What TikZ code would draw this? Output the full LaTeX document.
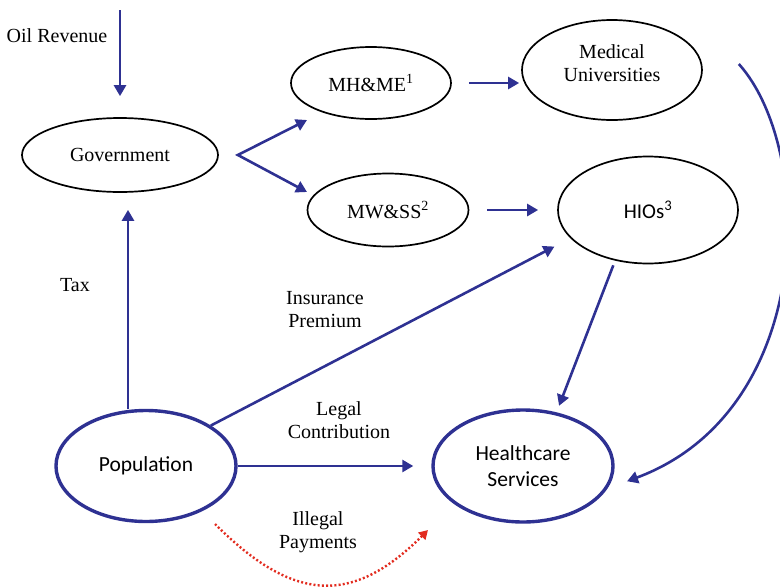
\documentclass[tikz,border=0pt]{standalone}
\usepackage{fontspec}
\setmainfont{Liberation Serif}
\newfontfamily\sansbody{Carlito}
\usepackage{xcolor}
\definecolor{colFlow}{RGB}{46,49,146}
\definecolor{colIllegal}{RGB}{226,44,32}
\usepackage{tikz}
\usetikzlibrary{arrows.meta, positioning, shapes.geometric}

\begin{document}
\begin{tikzpicture}[x=1pt, y=-1pt,
		>={Triangle[length=11pt, width=12pt]},
		org/.style={ellipse, draw, line width=1.7pt, inner sep=0pt, align=center, font=\fontsize{20}{23}\selectfont},
		core/.style={ellipse, draw=colFlow, line width=3.4pt, inner sep=0pt, align=center, font=\sansbody\fontsize{21.5}{26}\selectfont},
		lbl/.style={align=center, font=\fontsize{20}{23}\selectfont},
		flow/.style={draw=colFlow, line width=2.6pt, ->},
		illegal/.style={draw=colIllegal, line width=2.4pt, dash pattern=on 2pt off 2.2pt, -{Triangle[length=9pt, width=10pt]}}]
	\useasboundingbox (0,0) rectangle (780,587);
	\node[org, minimum width=196pt, minimum height=74pt] (gov) at (120,155) {Government};
	\node[org, minimum width=160pt, minimum height=72pt] (mhme) at (371,83) {MH\&ME\textsuperscript{1}};
	\node[org, minimum width=180pt, minimum height=100pt, text depth=14pt] (mu) at (612,70) {Medical\\Universities};
	\node[org, minimum width=161pt, minimum height=73pt] (mwss) at (388,210) {MW\&SS\textsuperscript{2}};
	\node[org, minimum width=180pt, minimum height=107pt, font=\sansbody\fontsize{21}{26}\selectfont] (hios) at (648,210) {HIOs\textsuperscript{3}};
	\node[core, minimum width=180pt, minimum height=111pt] (pop) at (146,466) {Population};
	\node[core, minimum width=180pt, minimum height=112pt] (hcs) at (523,466) {Healthcare\\Services};
	\node[lbl] (oil) at (57,36) {Oil Revenue};
	\node[lbl] (tax) at (75,285) {Tax};
	\node[lbl] (premium) at (325,310) {Insurance\\Premium};
	\node[lbl] (legal) at (339,420) {Legal\\Contribution};
	\node[lbl] (payments) at (318,532) {Illegal\\Payments};
	\coordinate (oilIn) at (120,10);
	\coordinate (fork) at ([xshift=19pt]gov.east);
	\coordinate (mhmeIn) at ([shift={(-64,37)}]mhme.center);
	\coordinate (mwssIn) at ([shift={(-81,-18)}]mwss.center);
	\coordinate (muOut) at ([shift={(36,-6)}]mu.east);
	\coordinate (illegalOut) at ([shift={(69,58)}]pop.center);
	\coordinate (illegalIn) at ([shift={(-95,64)}]hcs.center);
	\draw[flow, shorten >=21pt] (oilIn) -- (gov.north);
	\draw[flow, <->] (mhmeIn) -- (fork) -- (mwssIn);
	\draw[flow, shorten <=17pt, shorten >=2pt] (mhme.east) -- (mhme.east -| mu.west);
	\draw[flow, shorten <=18pt, shorten >=19pt] (mwss.east) -- (hios.west);
	\draw[flow, shorten >=17pt] ([xshift=-18pt]pop.north) -- ([xshift=8pt]gov.south);
	\draw[flow, shorten >=18pt] (pop.north east) -- (hios.200);
	\draw[flow, shorten <=5pt, shorten >=7pt] (hios.237) -- (hcs.58);
	\draw[flow, shorten >=18pt] (pop.east) -- (hcs.west);
	\draw[flow, shorten >=21pt] (muOut) .. controls +(77,86) and +(209,-78) .. (hcs.-15);
	\draw[illegal] (illegalOut) .. controls +(77,77) and +(-77,77) .. (illegalIn);
\end{tikzpicture}
\end{document}
